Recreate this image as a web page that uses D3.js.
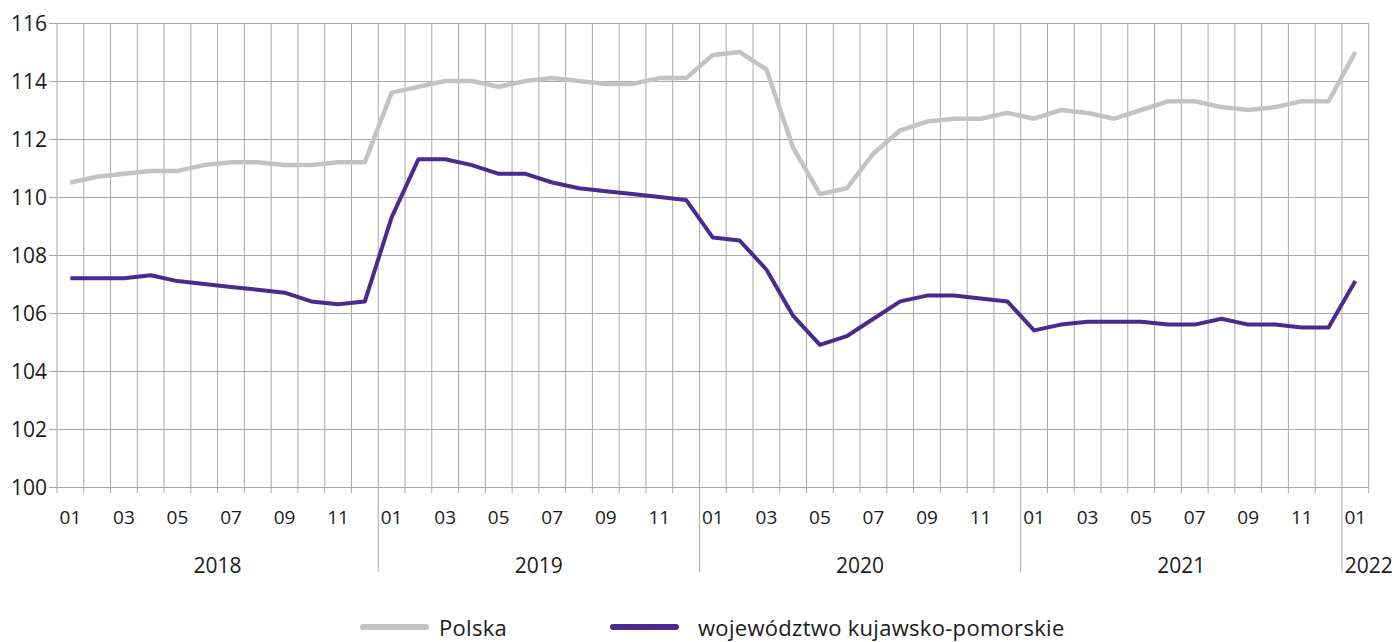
<!DOCTYPE html>
<html>
<head>
<meta charset="utf-8">
<script src="https://cdn.jsdelivr.net/npm/d3@7"></script>
<style>
	body { margin: 0; background: #fff; }
	text { font-family: "Open Sans", "Noto Sans", sans-serif; fill: #1a1a1a; }
</style>
</head>
<body>
<div id="chart-area"></div>
<script>

// Data: monthly index, Jan 2018 – Jan 2022
const years = ["2018", "2019", "2020", "2021", "2022"];
const monthLabels = ["01", "02", "03", "04", "05", "06", "07", "08", "09", "10", "11", "12"];
const yTicks = [100, 102, 104, 106, 108, 110, 112, 114, 116];

const polska = [
	110.5, 110.7, 110.8, 110.9, 110.9, 111.1, 111.2, 111.2, 111.1, 111.1, 111.2, 111.2,
	113.6, 113.8, 114.0, 114.0, 113.8, 114.0, 114.1, 114.0, 113.9, 113.9, 114.1, 114.1,
	114.9, 115.0, 114.4, 111.7, 110.1, 110.3, 111.5, 112.3, 112.6, 112.7, 112.7, 112.9,
	112.7, 113.0, 112.9, 112.7, 113.0, 113.3, 113.3, 113.1, 113.0, 113.1, 113.3, 113.3,
	115.0
];
const kujawskoPomorskie = [
	107.2, 107.2, 107.2, 107.3, 107.1, 107.0, 106.9, 106.8, 106.7, 106.4, 106.3, 106.4,
	109.3, 111.3, 111.3, 111.1, 110.8, 110.8, 110.5, 110.3, 110.2, 110.1, 110.0, 109.9,
	108.6, 108.5, 107.5, 105.9, 104.9, 105.2, 105.8, 106.4, 106.6, 106.6, 106.5, 106.4,
	105.4, 105.6, 105.7, 105.7, 105.7, 105.6, 105.6, 105.8, 105.6, 105.6, 105.5, 105.5,
	107.1
];
const seriesNames = ["Polska", "województwo kujawsko-pomorskie"];
const seriesColors = ["#c3c3c3", "#4b2a8d"];

// month keys like "2018-01"
const months = [];
years.forEach(y => monthLabels.forEach(m => {
	if (y !== "2022" || m === "01") months.push(y + "-" + m);
}));

let width = 1397,
	height = 642;
const margin = {left: 57, right: 28.3, top: 23, bottom: 155};

let svg = d3.select("#chart-area")
	.append("svg")
	.attr("width", width)
	.attr("height", height);

const x = d3.scaleBand()
	.domain(months)
	.range([margin.left, width - margin.right])
	.padding(0);

const y = d3.scaleLinear()
	.domain([100, 116])
	.range([height - margin.bottom, margin.top]);

const gridColor = "#a9a9a9";
const bottom = y(100);

// vertical grid lines at band edges (plus small tick below axis)
const edges = months.map(m => x(m)).concat([x.range()[1]]);
svg.append("g")
	.selectAll("line")
	.data(edges)
	.enter()
	.append("line")
	.attr("x1", d => d)
	.attr("x2", d => d)
	.attr("y1", margin.top)
	.attr("y2", (d, i) => (i % 12 === 0 && i > 0 && i < months.length) ? bottom + 85 : bottom + 6)
	.attr("stroke", gridColor)
	.attr("stroke-width", 1);

// horizontal grid lines + y tick labels
const yAxis = d3.axisLeft(y)
	.tickValues(yTicks)
	.tickSize(-(x.range()[1] - margin.left))
	.tickPadding(10)
	.tickFormat(d3.format("d"));

const yg = svg.append("g")
	.attr("transform", "translate(" + margin.left + ",0)")
	.call(yAxis);
yg.select(".domain").remove();
yg.selectAll(".tick line")
	.attr("stroke", gridColor)
	.attr("x1", -8);
yg.selectAll(".tick text")
	.style("font-size", "21px")
	.attr("fill", "#1a1a1a")
	.attr("dy", "0.35em");

// month labels (odd months)
svg.append("g")
	.selectAll("text")
	.data(months.filter(m => (+m.slice(5)) % 2 === 1))
	.enter()
	.append("text")
	.attr("x", d => x(d) + x.bandwidth() / 2)
	.attr("y", bottom + 37)
	.attr("text-anchor", "middle")
	.style("font-size", "19px")
	.text(d => d.slice(5));

// year labels
svg.append("g")
	.selectAll("text")
	.data(years)
	.enter()
	.append("text")
	.attr("x", d => {
		const ms = months.filter(m => m.startsWith(d));
		if (ms.length === 1) return x.range()[1];
		return (x(ms[0]) + x(ms[ms.length - 1]) + x.bandwidth()) / 2;
	})
	.attr("y", bottom + 86)
	.attr("text-anchor", "middle")
	.style("font-size", "21px")
	.text(d => d);

// lines
const line = d3.line()
	.x((d, i) => x(months[i]) + x.bandwidth() / 2)
	.y(d => y(d));

[polska, kujawskoPomorskie].forEach((s, i) => {
	svg.append("path")
		.datum(s)
		.attr("d", line)
		.attr("fill", "none")
		.attr("stroke", seriesColors[i])
		.attr("stroke-width", i === 0 ? 4.5 : 4)
		.attr("stroke-linejoin", "round");
});

// legend
const legendX = [363, 613];
const legend = svg.append("g");
seriesNames.forEach((name, i) => {
	legend.append("line")
		.attr("x1", legendX[i])
		.attr("x2", legendX[i] + 63)
		.attr("y1", 627)
		.attr("y2", 627)
		.attr("stroke", seriesColors[i])
		.attr("stroke-width", 6)
		.attr("stroke-linecap", "round");
	legend.append("text")
		.attr("x", legendX[i] + 76 + (i === 1 ? 9 : 0))
		.attr("y", 636)
		.style("font-size", "22px")
		.style("letter-spacing", "0.3px")
		.text(name);
});

</script>
</body>
</html>
